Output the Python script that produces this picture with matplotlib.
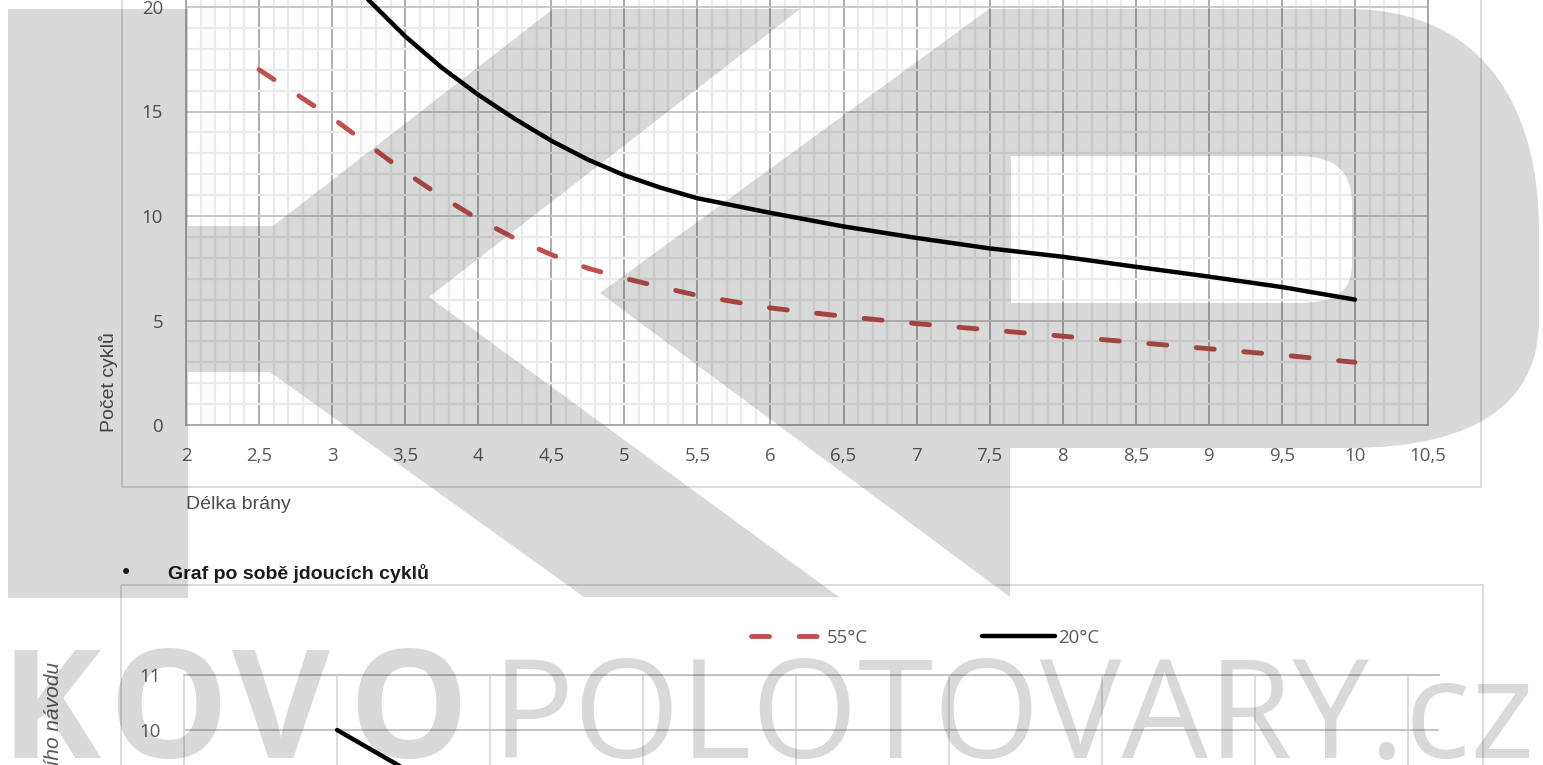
import matplotlib
matplotlib.use("Agg")
import matplotlib.pyplot as plt
from matplotlib.patches import PathPatch, Rectangle
from matplotlib.path import Path
from matplotlib.lines import Line2D
from matplotlib.ticker import MultipleLocator, FuncFormatter
from matplotlib.transforms import Affine2D

plt.rcParams['font.family'] = ['Open Sans', 'DejaVu Sans']

# chart 1: cycles vs gate length (denser where the curves bend)
length_55 = [2.5, 2.75, 3.0, 3.25, 3.5, 3.75, 4.0, 4.25, 4.5, 4.75, 5.0, 5.25, 5.5,
             6.0, 6.5, 7.0, 7.5, 8.0, 8.5, 9.0, 9.5, 10.0]
cycles_55 = [17.0, 15.85, 14.7, 13.4, 12.1, 10.92, 9.85, 8.93, 8.15, 7.5, 7.02, 6.6, 6.2,
             5.6, 5.2, 4.85, 4.55, 4.25, 3.95, 3.65, 3.35, 3.0]
length_20 = [2.5, 2.75, 3.0, 3.25, 3.5, 3.75, 4.0, 4.25, 4.5, 4.75, 5.0, 5.25, 5.5,
             6.0, 6.5, 7.0, 7.5, 8.0, 8.5, 9.0, 9.5, 10.0]
cycles_20 = [27.2, 24.6, 22.3, 20.33, 18.6, 17.1, 15.8, 14.65, 13.6, 12.7, 11.95, 11.35, 10.85,
             10.15, 9.5, 8.95, 8.45, 8.05, 7.57, 7.1, 6.6, 6.0]

# chart 2: consecutive cycles (only the top is visible)
seq_index = [1, 2]
seq_cycles_20 = [10.0, 8.4]
seq_y_ticks = [10, 11]

series_labels = ["55°C", "20°C"]
RED = "#c0504d"
NARROW = ['Liberation Sans Narrow', 'Liberation Sans']

W, H = 1543, 765
fig = plt.figure(figsize=(W / 100, H / 100), dpi=100)
pix = Affine2D().scale(1 / W, -1 / H).translate(0, 1) + fig.transFigure


def box(x0, y0, x1, y1):
    # pixel box (top-left origin) -> figure fraction rect
    return [x0 / W, 1 - y1 / H, (x1 - x0) / W, (y1 - y0) / H]


comma = FuncFormatter(lambda v, p: f"{v:g}".replace(".", ","))

# ---- chart 1
ax = fig.add_axes(box(186, 425 - 22 * 20.9, 1428, 425))
ax.set_xlim(2, 10.5)
ax.set_ylim(0, 22)
ax.patch.set_alpha(0)
ax.xaxis.set_major_locator(MultipleLocator(0.5))
ax.xaxis.set_minor_locator(MultipleLocator(0.1))
ax.yaxis.set_major_locator(MultipleLocator(5))
ax.yaxis.set_minor_locator(MultipleLocator(1))
ax.xaxis.set_major_formatter(comma)
ax.grid(which="minor", color="#ebebeb", lw=1.6)
ax.grid(which="major", axis="x", color="#a6a6a6", lw=1.3)
ax.grid(which="major", axis="y", color="#c4c4c4", lw=1.3)
ax.set_axisbelow(True)
ax.spines["top"].set_visible(False)
for s in ("left", "right", "bottom"):
    ax.spines[s].set_color("#a6a6a6")
    ax.spines[s].set_linewidth(1.3)
ax.tick_params(which="both", length=0, labelsize=13.4, labelcolor="#595959")
ax.tick_params(axis="x", pad=15.8)
ax.tick_params(axis="y", pad=16.5)

ax.plot(length_55, cycles_55, color=RED, lw=3.5, linestyle=(0, (3.7, 6.1)),
        dash_capstyle="round", label=series_labels[0])
ax.plot(length_20, cycles_20, color="black", lw=3.2, solid_capstyle="round",
        solid_joinstyle="round", label=series_labels[1])

fig.text(108, 382, "Počet cyklů", transform=pix, rotation=90, ha="center", va="center",
         family=NARROW, fontsize=14, color="#4d4d4d")
fig.text(186, 509, "Délka brány", transform=pix, ha="left", va="baseline",
         family=NARROW, fontsize=14, color="#4d4d4d")
fig.add_artist(Rectangle((122, -60), 1481 - 122, 487 + 60, transform=pix, fill=False,
                         edgecolor="#d9d9d9", lw=1.3))

# ---- heading between charts
fig.text(126, 573, "•", transform=pix, ha="center", va="center", fontsize=15,
         family="DejaVu Sans", color="#1a1a1a")
fig.text(168, 579, "Graf po sobě jdoucích cyklů", transform=pix, ha="left", va="baseline",
         family="Liberation Sans", weight="bold", fontsize=14, color="#1a1a1a")
fig.text(54, 662, "Překlad originálního návodu", transform=pix, rotation=90,
         ha="center", va="top", family=NARROW, style="italic", fontsize=15, color="#595959")

# ---- chart 2
ax2 = fig.add_axes(box(184, 675, 1439, 675 + 11 * 55))
ax2.set_xlim(0, 8.2)
ax2.set_ylim(0, 11)
ax2.patch.set_alpha(0)
ax2.xaxis.set_major_locator(MultipleLocator(1))
ax2.set_yticks(seq_y_ticks)
ax2.grid(axis="x", color="#d9d9d9", lw=1.3)
ax2.grid(axis="y", color="#bfbfbf", lw=1.3)
ax2.set_axisbelow(True)
ax2.spines["right"].set_visible(False)
ax2.spines["bottom"].set_visible(False)
ax2.spines["left"].set_color("#d9d9d9")
ax2.spines["top"].set_color("#bfbfbf")
for s in ("left", "top"):
    ax2.spines[s].set_linewidth(1.3)
ax2.tick_params(length=0, labelsize=13.4, labelcolor="#595959", pad=16.5)
ax2.tick_params(axis="x", labelbottom=False)
line20, = ax2.plot(seq_index, seq_cycles_20, color="black", lw=3.2, solid_capstyle="round")
proxy55 = Line2D([], [], color=RED, lw=3.5, linestyle=(0, (3.7, 6.1)), dash_capstyle="round")
ax2.legend([proxy55, line20], series_labels, ncol=2, frameon=False, loc="center left",
           bbox_to_anchor=(751, 638), bbox_transform=pix, borderpad=0, borderaxespad=0,
           handlelength=3.9, handletextpad=0.2, columnspacing=6.1,
           prop={"size": 13.4}, labelcolor="#595959")
fig.add_artist(Rectangle((121, 585), 1483 - 121, 400, transform=pix, fill=False,
                         edgecolor="#d9d9d9", lw=1.3))

# ---- watermark (black at 15 % acts like a multiply with #d9d9d9)
wm = dict(facecolor="black", alpha=0.15, lw=0, transform=pix, zorder=20)
k_pts = [(8, 9), (188, 9), (188, 226), (273, 226), (553, 9), (800, 9), (429, 297),
         (839, 597), (584, 597), (270, 372), (188, 372), (188, 598), (8, 598), (8, 9)]
k_codes = [Path.MOVETO] + [Path.LINETO] * (len(k_pts) - 2) + [Path.CLOSEPOLY]
fig.add_artist(PathPatch(Path(k_pts, k_codes), **wm))

d_pts = [(600, 293), (989, 9), (1348, 9),
         (1485, 9), (1539, 110), (1539, 230),
         (1539, 320),
         (1539, 400), (1480, 448), (1348, 448),
         (1010, 448), (1010, 597), (600, 293),
         # hole, opposite winding
         (1011, 156), (1011, 303), (1296, 303),
         (1340, 303), (1352, 290), (1352, 262),
         (1352, 205),
         (1352, 175), (1340, 156), (1296, 156),
         (1011, 156)]
d_codes = ([Path.MOVETO, Path.LINETO, Path.LINETO]
           + [Path.CURVE4] * 3 + [Path.LINETO] + [Path.CURVE4] * 3
           + [Path.LINETO, Path.LINETO, Path.CLOSEPOLY]
           + [Path.MOVETO, Path.LINETO, Path.LINETO]
           + [Path.CURVE4] * 3 + [Path.LINETO] + [Path.CURVE4] * 3
           + [Path.CLOSEPOLY])
fig.add_artist(PathPatch(Path(d_pts, d_codes), **wm))

wm_text = dict(transform=pix, va="baseline", family="Open Sans", color="black",
               alpha=0.15, zorder=20)
for ch, centre in zip("KOVO", (51, 168, 281, 408)):
    fig.text(centre, 758, ch, fontsize=108.5, weight="bold", ha="center", **wm_text)
t2 = fig.text(492, 758, "POLOTOVARY.cz", fontsize=100, weight="normal", **wm_text)
renderer = fig.canvas.get_renderer()
w = t2.get_window_extent(renderer).width
t2.set_fontsize(t2.get_fontsize() * 1043 / w)

fig.savefig("out.png", dpi=100)
